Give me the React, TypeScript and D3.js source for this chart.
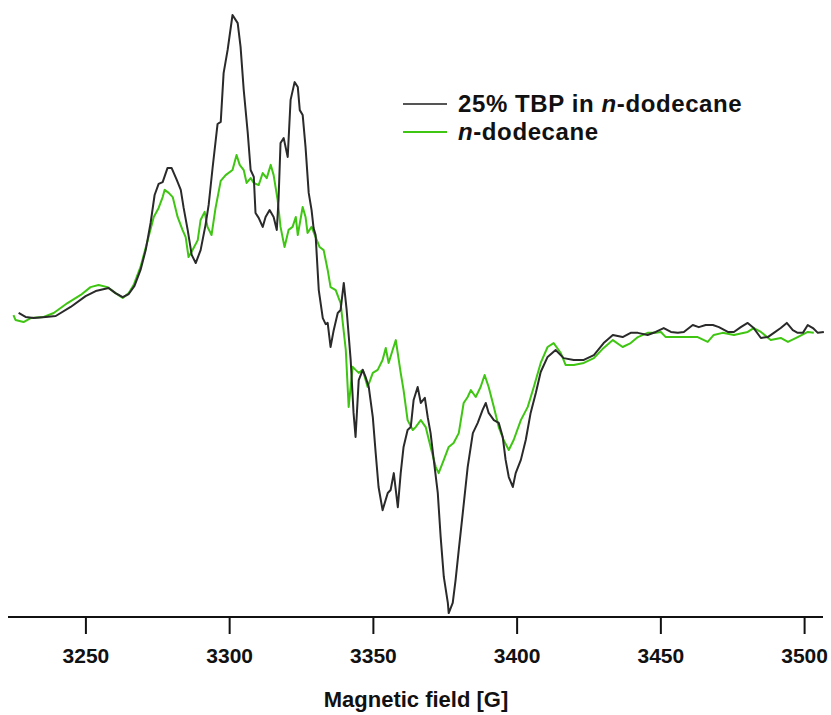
import * as d3 from "d3";
import { useMemo } from "react";

// EPR spectra, field in gauss, intensity normalised (a.u.)
const tbpSpectrum: [number, number][] = [
  [3226.6, 1.0], [3229.0, -0.3], [3231.8, -0.7], [3236.0, -0.3], [3239.5, 0], [3244.7, 3.0],
  [3249.9, 6.6], [3253.4, 8.3], [3257.9, 9.3], [3260.3, 7.6], [3262.8, 6.3], [3264.9, 7.3],
  [3266.9, 10.0], [3269.0, 15.3], [3270.8, 21.9], [3272.5, 30.9], [3273.9, 40.2], [3275.3, 43.9],
  [3276.7, 44.5], [3278.4, 49.2], [3279.8, 49.2], [3281.6, 45.2], [3283.0, 41.9], [3284.0, 35.9],
  [3285.4, 28.6], [3286.8, 20.3], [3288.2, 17.6], [3289.9, 21.9], [3291.6, 30.2], [3292.7, 36.9],
  [3294.1, 49.5], [3295.8, 63.8], [3296.9, 64.5], [3297.9, 80.7], [3299.3, 88.4], [3301.0, 100.0],
  [3302.8, 97.3], [3303.8, 89.4], [3304.9, 75.1], [3306.3, 60.8], [3307.3, 48.5], [3308.4, 46.2],
  [3309.0, 34.2], [3310.1, 32.6], [3311.5, 29.6], [3312.5, 32.9], [3313.9, 35.2], [3315.3, 32.9],
  [3316.4, 28.6], [3317.0, 38.5], [3317.7, 57.5], [3318.8, 59.1], [3320.2, 52.8], [3321.2, 71.8],
  [3322.6, 77.7], [3323.7, 76.1], [3324.4, 68.4], [3325.4, 66.8], [3326.4, 56.1], [3327.5, 40.9],
  [3328.5, 35.2], [3329.2, 29.2], [3329.9, 26.9], [3331.0, 8.6], [3332.4, -0.7], [3333.4, -2.7],
  [3334.1, -2.3], [3335.1, -10.3], [3336.2, -4.7], [3337.6, 1.0], [3338.6, 2.0], [3339.7, 11.0],
  [3340.7, 2.0], [3342.1, -14.6], [3343.1, -32.2], [3343.8, -40.2], [3344.9, -21.3], [3346.3, -17.9],
  [3347.3, -20.3], [3348.4, -23.6], [3349.8, -33.6], [3350.8, -45.5], [3351.8, -56.8], [3353.2, -64.5],
  [3355.0, -58.8], [3356.0, -57.8], [3357.1, -52.2], [3358.5, -63.5], [3359.5, -52.2], [3360.5, -43.5],
  [3361.9, -37.9], [3363.0, -36.9], [3364.0, -27.9], [3365.4, -23.6], [3366.5, -28.9], [3367.9, -27.2],
  [3368.9, -33.6], [3369.9, -38.9], [3371.0, -47.8], [3372.4, -58.8], [3373.4, -73.4], [3374.5, -86.7],
  [3375.9, -95.3], [3376.2, -98.7], [3377.6, -95.3], [3378.6, -87.7], [3379.7, -77.7], [3381.1, -65.4],
  [3382.8, -50.2], [3384.6, -38.9], [3386.3, -35.5], [3388.0, -31.2], [3389.1, -28.9], [3390.1, -32.2],
  [3391.9, -34.6], [3393.6, -35.5], [3395.0, -40.2], [3396.0, -47.8], [3397.1, -53.5], [3398.5, -56.8],
  [3399.5, -52.2], [3401.3, -47.8], [3403.0, -41.2], [3404.7, -32.2], [3406.5, -25.6], [3408.2, -18.6],
  [3410.6, -13.6], [3413.4, -11.3], [3416.2, -14.0], [3419.7, -14.6], [3423.2, -14.6], [3426.7, -13.0],
  [3430.1, -9.0], [3433.3, -6.3], [3436.7, -7.0], [3439.5, -5.6], [3442.0, -5.6], [3445.4, -6.3],
  [3448.2, -5.3], [3451.0, -4.0], [3453.5, -5.3], [3455.9, -5.6], [3458.0, -5.3], [3461.1, -3.0],
  [3463.2, -3.7], [3465.6, -3.0], [3468.1, -3.0], [3470.2, -3.7], [3473.3, -5.3], [3475.4, -5.3],
  [3477.8, -3.7], [3480.2, -2.3], [3482.3, -4.0], [3484.8, -7.3], [3487.2, -7.0], [3489.3, -5.6],
  [3491.7, -4.0], [3493.8, -2.3], [3495.9, -4.7], [3497.6, -5.6], [3499.4, -5.6], [3501.1, -3.0],
  [3502.9, -4.0], [3504.6, -5.6], [3506.7, -5.3],
];

const dodecaneSpectrum: [number, number][] = [
  [3224.8, 0.3], [3225.5, -1.3], [3228.3, -2.0], [3230.8, -0.7], [3235.3, -0.3], [3238.8, 1.0],
  [3243.6, 4.3], [3248.2, 7.0], [3251.6, 9.6], [3254.4, 10.3], [3257.5, 9.6], [3260.3, 7.6],
  [3262.8, 6.0], [3264.9, 7.6], [3266.6, 10.3], [3269.0, 16.3], [3271.5, 25.2], [3273.6, 32.9],
  [3275.3, 35.9], [3276.7, 39.5], [3277.4, 41.9], [3278.8, 40.9], [3280.2, 39.5], [3281.9, 32.9],
  [3283.6, 28.6], [3284.7, 26.2], [3285.7, 19.6], [3287.1, 21.9], [3288.9, 25.2], [3289.9, 31.9],
  [3291.3, 34.6], [3292.3, 29.6], [3293.7, 26.9], [3295.1, 35.9], [3296.9, 44.9], [3298.6, 46.8],
  [3301.0, 48.5], [3302.4, 53.5], [3303.5, 50.2], [3304.9, 48.5], [3305.9, 44.2], [3307.3, 45.8],
  [3308.4, 44.2], [3310.1, 43.5], [3311.5, 47.5], [3312.9, 45.8], [3314.3, 50.2], [3315.3, 46.8],
  [3316.7, 38.5], [3317.7, 29.6], [3319.1, 22.9], [3320.5, 28.6], [3321.9, 29.6], [3323.0, 32.9],
  [3323.7, 26.9], [3325.4, 36.2], [3326.4, 32.9], [3327.1, 27.6], [3328.5, 29.6], [3329.9, 26.2],
  [3331.3, 22.9], [3332.7, 21.9], [3334.1, 15.3], [3335.1, 9.6], [3336.9, 8.6], [3337.9, 6.0],
  [3338.6, 4.3], [3340.4, -11.3], [3341.4, -30.2], [3342.8, -16.9], [3343.8, -17.9], [3344.9, -18.9],
  [3346.3, -17.9], [3348.0, -23.6], [3349.8, -18.9], [3351.5, -17.9], [3353.2, -14.6], [3354.3, -10.6],
  [3355.3, -15.6], [3356.7, -11.3], [3357.8, -8.0], [3359.5, -18.9], [3360.5, -24.6], [3361.9, -34.6],
  [3363.7, -37.9], [3364.7, -36.9], [3366.5, -34.6], [3368.2, -36.9], [3369.9, -43.5], [3371.7, -50.2],
  [3372.7, -52.2], [3374.5, -47.8], [3376.2, -43.5], [3377.9, -42.2], [3379.7, -38.9], [3381.4, -28.9],
  [3382.8, -26.9], [3383.9, -24.6], [3385.6, -26.9], [3387.3, -23.6], [3388.7, -19.6], [3390.1, -23.6],
  [3391.9, -30.2], [3393.6, -36.9], [3395.3, -41.2], [3397.1, -44.5], [3398.8, -41.2], [3401.3, -34.6],
  [3403.7, -30.2], [3405.8, -23.6], [3408.2, -15.6], [3410.6, -10.3], [3412.7, -9.0], [3415.2, -12.3],
  [3416.9, -16.3], [3419.7, -16.3], [3423.2, -15.6], [3426.7, -14.0], [3430.1, -10.6], [3433.3, -8.0],
  [3436.7, -10.3], [3439.5, -9.0], [3442.0, -7.0], [3445.4, -5.6], [3448.2, -5.6], [3450.0, -5.3],
  [3451.7, -7.0], [3455.9, -7.0], [3459.4, -7.0], [3462.8, -7.0], [3466.3, -8.6], [3468.4, -6.3],
  [3471.5, -5.6], [3475.4, -6.3], [3480.2, -5.3], [3482.3, -4.0], [3484.8, -5.3], [3488.2, -8.0],
  [3491.7, -7.3], [3494.2, -8.6], [3497.6, -7.0], [3501.1, -5.3], [3503.2, -5.6],
];

const seriesNames = ["25% TBP in ", "n-dodecane"];
const xTicks = [3250, 3300, 3350, 3400, 3450, 3500];
const xTitle = "Magnetic field [G]";

const WIDTH = 831;
const HEIGHT = 715;
const BLACK = "#2a2a2a";
const GREEN = "#3fc612";
const FONT = "'Liberation Sans', Arial, sans-serif";

export default function App() {
  const xScale = useMemo(
    () => d3.scaleLinear().domain([3222.9, 3506.4]).range([8, 823]),
    []
  );
  const yScale = useMemo(
    () => d3.scaleLinear().domain([-100, 100]).range([617, 15]),
    []
  );

  const line = d3
    .line<[number, number]>()
    .x((d) => xScale(d[0]))
    .y((d) => yScale(d[1]));

  const axisY = yScale(-100);
  const [x0, x1] = xScale.range();

  return (
    <svg
      width={WIDTH}
      height={HEIGHT}
      style={{ position: "absolute", left: 0, top: 0, background: "#fff" }}
      fontFamily={FONT}
    >
      <path d={line(dodecaneSpectrum) ?? ""} fill="none" stroke={GREEN} strokeWidth={2} strokeLinejoin="round" />
      <path d={line(tbpSpectrum) ?? ""} fill="none" stroke={BLACK} strokeWidth={2} strokeLinejoin="round" />

      {/* x axis */}
      <line x1={x0} x2={x1} y1={axisY} y2={axisY} stroke="#111" strokeWidth={2} />
      {xTicks.map((t) => (
        <g key={t} transform={`translate(${xScale(t)},${axisY})`}>
          <line y1={0} y2={17} stroke="#111" strokeWidth={2} />
          <text y={46} textAnchor="middle" fontSize={21} fontWeight="bold" fill="#111">
            {t}
          </text>
        </g>
      ))}
      <text x={416} y={707} textAnchor="middle" fontSize={22} fontWeight="bold" fill="#111">
        {xTitle}
      </text>

      {/* legend */}
      <g fontSize={24} fontWeight="bold" fill="#111" letterSpacing={0.6}>
        <line x1={403} x2={447} y1={104} y2={104} stroke="#555" strokeWidth={2} />
        <text x={458} y={112}>
          {seriesNames[0]}
          <tspan fontStyle="italic">n</tspan>-dodecane
        </text>
        <line x1={403} x2={447} y1={132} y2={132} stroke={GREEN} strokeWidth={2} />
        <text x={458} y={140}>
          <tspan fontStyle="italic">n</tspan>-dodecane
        </text>
      </g>
    </svg>
  );
}
